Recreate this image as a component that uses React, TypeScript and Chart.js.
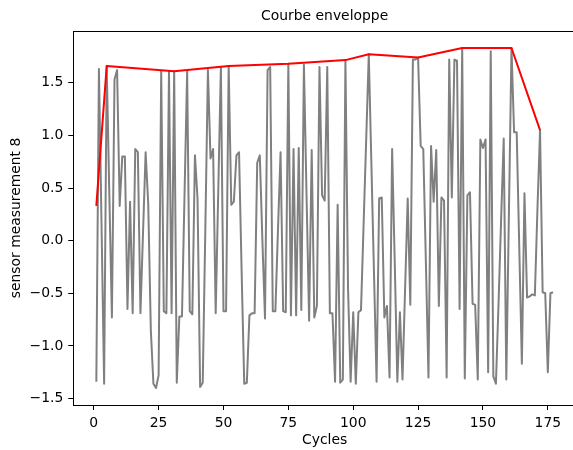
import React, { useEffect, useRef } from "react";
import { Chart, registerables } from "chart.js";

Chart.register(...registerables);

const TITLE = "Courbe enveloppe";
const X_LABEL = "Cycles";
const Y_LABEL = "sensor measurement 8";

const CYCLES = Array.from({ length: 177 }, (_, i) => i + 1);

const SENSOR = [
  -1.34, 1.63, 0.15, -1.36, 1.66, 0.45, -0.73, 1.53, 1.62, 0.33,
  0.8, 0.8, -0.65, 0.37, -0.69, 0.87, 0.84, -0.69, 0.08, 0.84,
  0.35, -0.85, -1.36, -1.4, -1.28, 1.61, -0.67, -0.69, 1.61, -0.69,
  1.61, -1.35, -0.72, -0.72, 0.45, 1.61, -0.67, -0.7, 0.81, 0.4,
  -1.39, -1.35, 0.1, 1.62, 0.78, 0.87, -0.69, 0.48, 1.65, -0.67,
  -0.67, 1.66, 0.34, 0.37, 0.81, 0.84, -0.3, -1.36, -1.35, -0.71,
  -0.69, -0.69, 0.74, 0.81, 0.0, -0.74, 1.62, 1.65, -0.67, -0.67,
  0.1, 0.84, -0.67, -0.68, 1.68, -0.71, 0.87, -0.71, 0.88, -0.66,
  1.67, 0.45, -0.76, 0.86, -0.73, -0.62, 1.65, 0.43, 0.38, 1.65,
  -0.69, -0.69, -1.34, 0.34, -1.35, -1.32, 1.715, -0.45, -1.34, -0.68,
  -1.36, -0.68, -0.66, 0.15, 0.96, 1.77, 0.73, -0.3, -1.34, 0.4,
  0.41, -0.73, -0.62, -1.3, 0.87, -0.2, -1.34, -0.68, -1.32, -0.45,
  0.4, -0.61, 1.72, 1.72, 1.74, 0.9, 0.87, -0.2, -1.3, 0.9,
  0.37, 0.86, -0.62, 0.41, 0.38, -1.3, 1.72, 0.41, 1.72, 1.71,
  -0.65, 1.83, -1.31, 0.43, 0.46, -0.6, -0.61, -1.32, 0.96, 0.88,
  0.96, -1.25, 1.8, -1.29, -1.36, -0.6, 0.2, 0.97, -1.32, 0.25,
  1.83, 1.03, 1.03, -0.07, -1.17, 0.45, -0.54, -0.53, -0.51, -0.52,
  0.3, 1.05, -0.49, -0.5, -1.25, -0.5, -0.49,
];

const ENV_CYCLES = [1, 5, 31, 52, 75, 97, 106, 125, 142, 161, 172];
const ENV_VALUES = [0.33, 1.66, 1.61, 1.66, 1.68, 1.715, 1.77, 1.74, 1.83, 1.83, 1.05];

const X_TICKS = [0, 25, 50, 75, 100, 125, 150, 175];
const X_TICK_LABELS = ["0", "25", "50", "75", "100", "125", "150", "175"];
const Y_TICKS = [-1.5, -1.0, -0.5, 0, 0.5, 1.0, 1.5];
const Y_TICK_LABELS = ["\u22121.5", "\u22121.0", "\u22120.5", "0.0", "0.5", "1.0", "1.5"];

const FONT = "'DejaVu Sans', sans-serif";

const framePlugin = {
  id: "frame",
  afterDraw(chart: any) {
    const { ctx, chartArea } = chart;
    const { left, right, top } = chartArea;
    ctx.save();
    ctx.strokeStyle = "#000";
    ctx.lineWidth = 1;
    ctx.beginPath();
    const t = Math.round(top) + 0.5;
    ctx.moveTo(left, t);
    ctx.lineTo(right, t);
    ctx.lineTo(right, chartArea.bottom);
    ctx.stroke();
    ctx.font = `13.9px ${FONT}`;
    ctx.fillStyle = "#000";
    ctx.textAlign = "center";
    ctx.textBaseline = "alphabetic";
    ctx.fillText(TITLE, (left + right) / 2, 19.6);
    ctx.restore();
  },
};

export default function App() {
  const ref = useRef<HTMLCanvasElement>(null);

  useEffect(() => {
    const canvas = ref.current;
    if (!canvas) return;
    Chart.defaults.font.family = FONT;
    const chart = new Chart(canvas, {
      type: "line",
      data: {
        datasets: [
          {
            label: "envelope",
            data: ENV_CYCLES.map((x, i) => ({ x, y: ENV_VALUES[i] })),
            borderColor: "#ff0000",
            borderWidth: 2,
            pointRadius: 0,
            borderJoinStyle: "round",
            tension: 0,
            order: 0,
          },
          {
            label: "sensor",
            data: CYCLES.map((x, i) => ({ x, y: SENSOR[i] })),
            borderColor: "#808080",
            borderWidth: 2,
            pointRadius: 0,
            borderJoinStyle: "round",
            tension: 0,
            order: 1,
          },
        ],
      },
      options: {
        animation: false,
        responsive: false,
        maintainAspectRatio: false,
        layout: { padding: { top: 31, right: 1, bottom: 0, left: 0 } },
        plugins: {
          legend: { display: false },
          tooltip: { enabled: false },
          title: { display: false },
        },
        scales: {
          x: {
            type: "linear",
            min: -7.897,
            max: 185.86,
            afterBuildTicks: (s: any) => {
              s.ticks = X_TICKS.map((v) => ({ value: v }));
            },
            afterFit: (s: any) => {
              s.height = 45;
            },
            grid: {
              drawOnChartArea: false,
              drawTicks: true,
              tickLength: 5,
              tickColor: "#000",
              tickWidth: 1,
            },
            border: { display: true, color: "#000", width: 1 },
            ticks: {
              color: "#000",
              font: { family: FONT, size: 13.9 },
              padding: 5,
              maxRotation: 0,
              autoSkip: false,
              callback: (v: any) => {
                const i = X_TICKS.indexOf(Number(v));
                return i >= 0 ? X_TICK_LABELS[i] : "";
              },
            },
            title: {
              display: true,
              text: X_LABEL,
              color: "#000",
              font: { family: FONT, size: 13.9 },
              padding: { top: 0, bottom: 1.5 },
            },
          },
          y: {
            type: "linear",
            min: -1.5615,
            max: 1.9915,
            afterBuildTicks: (s: any) => {
              s.ticks = Y_TICKS.map((v) => ({ value: v }));
            },
            afterFit: (s: any) => {
              s.width = 73.25;
            },
            grid: {
              drawOnChartArea: false,
              drawTicks: true,
              tickLength: 5,
              tickColor: "#000",
              tickWidth: 1,
            },
            border: { display: true, color: "#000", width: 1 },
            ticks: {
              color: "#000",
              font: { family: FONT, size: 13.9 },
              padding: 5,
              autoSkip: false,
              callback: (v: any) => {
                const i = Y_TICKS.indexOf(Number(v));
                return i >= 0 ? Y_TICK_LABELS[i] : "";
              },
            },
            title: {
              display: true,
              text: Y_LABEL,
              color: "#000",
              font: { family: FONT, size: 13.9 },
              padding: { top: 7.8, bottom: 0 },
            },
          },
        },
      },
      plugins: [framePlugin],
    } as any);
    return () => chart.destroy();
  }, []);

  return (
    <div
      style={{
        position: "fixed",
        left: 0,
        top: 0,
        width: 573,
        height: 450,
        overflow: "hidden",
        background: "#fff",
      }}
    >
      <canvas ref={ref} width={577} height={450} style={{ display: "block", width: 577, height: 450 }} />
    </div>
  );
}
